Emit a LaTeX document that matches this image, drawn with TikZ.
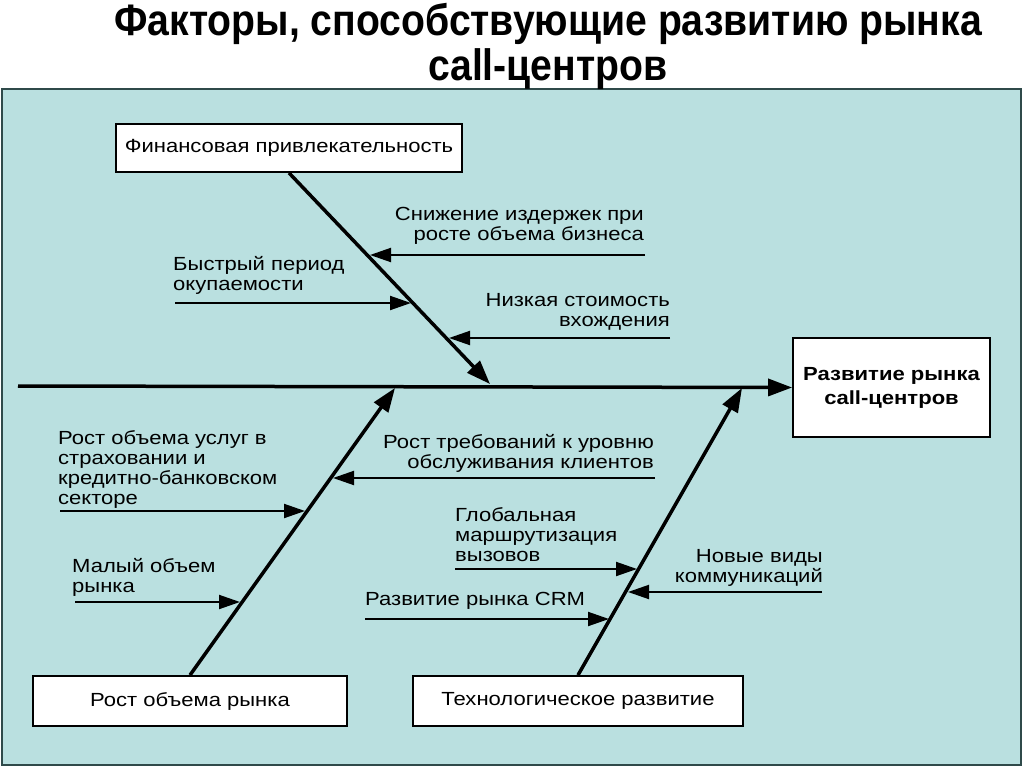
\documentclass[tikz,border=0pt]{standalone}
\usepackage{fontspec}
\setmainfont{Liberation Sans}[FakeStretch=1.16]
\newfontfamily\titlefont{Liberation Sans}[FakeStretch=0.89]
\usetikzlibrary{arrows.meta}
\definecolor{panel}{HTML}{BAE0E0}
\definecolor{panelborder}{HTML}{2F4A4A}
\begin{document}
\begin{tikzpicture}[x=1pt,y=-1pt,
  txt/.style={font=\fontsize{19}{20}\selectfont, inner sep=0pt},
  box/.style={draw, line width=1.8pt, fill=white, font=\fontsize{19}{22}\selectfont, inner sep=0pt},
  bone/.style={line width=3.5pt, -{Triangle[length=24pt,width=17pt]}},
  rib/.style={line width=2pt, -{Triangle[length=21pt,width=14pt]}},
]
\useasboundingbox (0,0) rectangle (1024,767);
\fill[white] (0,0) rectangle (1024,767);
\draw[fill=panel, draw=panelborder, line width=1.5pt] (2,89) rectangle (1021,765);

\node[inner sep=0pt, align=center, anchor=north, font=\titlefont\bfseries\fontsize{44}{45}\selectfont] (title) at (548,3) {Факторы, способствующие развитию рынка\\call-центров};

\node[box, minimum width=346pt, minimum height=48pt] (fin) at (289,148) {Финансовая привлекательность};
\node[box, minimum width=197pt, minimum height=99pt, align=center, font=\bfseries\fontsize{19}{24}\selectfont] (goal) at (891.5,387.5) {Развитие рынка\\call-центров};
\node[box, minimum width=314pt, minimum height=50pt] (rost) at (190,701) {Рост объема рынка};
\node[box, minimum width=330pt, minimum height=50pt] (tech) at (578,701) {Технологическое развитие};

\coordinate (spineL) at (18,386);
\draw[bone] (spineL) -- (goal.west);

\coordinate (b1) at (490,384);
\coordinate (b2) at (395,388);
\coordinate (b3) at (742,388);
\draw[bone] (fin.south) -- (b1);
\draw[bone] (rost.north) -- (b2);
\draw[bone] (tech.north) -- (b3);

\coordinate (r1s) at (645,255); \coordinate (r1e) at (370,255);
\coordinate (r2s) at (175,303); \coordinate (r2e) at (411,303);
\coordinate (r3s) at (670,338); \coordinate (r3e) at (449,338);
\coordinate (r4s) at (60,511);  \coordinate (r4e) at (305,511);
\coordinate (r5s) at (655,478); \coordinate (r5e) at (333,478);
\coordinate (r6s) at (75,602);  \coordinate (r6e) at (240,602);
\coordinate (r7s) at (455,569); \coordinate (r7e) at (637,569);
\coordinate (r8s) at (822,592); \coordinate (r8e) at (628,592);
\coordinate (r9s) at (365,619); \coordinate (r9e) at (609,619);
\foreach \i in {1,...,9} {\draw[rib] (r\i s) -- (r\i e);}

\node[txt, anchor=north east, align=right] (t1) at (644,207) {Снижение издержек при\\росте объема бизнеса};
\node[txt, anchor=north west, align=left] (t2) at (173,256) {Быстрый период\\окупаемости};
\node[txt, anchor=north east, align=right] (t3) at (670,293) {Низкая стоимость\\вхождения};
\node[txt, anchor=north west, align=left] (t4) at (58,430) {Рост объема услуг в\\страховании и\\кредитно-банковском\\секторе};
\node[txt, anchor=north east, align=right] (t5) at (654,434) {Рост требований к уровню\\обслуживания клиентов};
\node[txt, anchor=north west, align=left] (t6) at (72,558) {Малый объем\\рынка};
\node[txt, anchor=north west, align=left] (t7) at (455,507) {Глобальная\\маршрутизация\\вызовов};
\node[txt, anchor=north east, align=right] (t8) at (823,549) {Новые виды\\коммуникаций};
\node[txt, anchor=north west, align=left] (t9) at (365,592) {Развитие рынка CRM};
\end{tikzpicture}
\end{document}
